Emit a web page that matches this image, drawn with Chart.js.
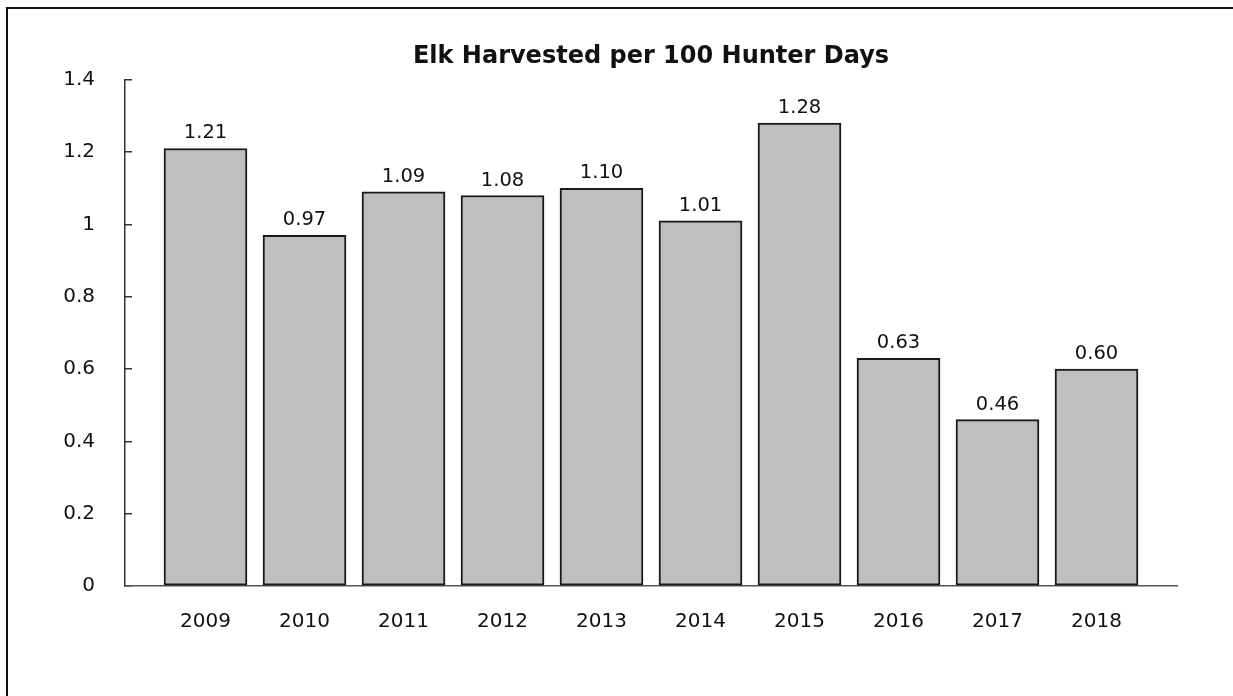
<!DOCTYPE html>
<html>
<head>
<meta charset="utf-8">
<script src="https://cdn.jsdelivr.net/npm/chart.js@4.4.0/dist/chart.umd.min.js"></script>
<style>
  html, body { margin: 0; padding: 0; background: #fff; overflow: hidden; }
  #frame { position: absolute; left: 6px; top: 7px; width: 1400px; height: 900px;
           border-left: 2px solid #111; border-top: 2px solid #111; }
  #wrap { position: absolute; left: 0; top: 0; width: 1233px; height: 696px; }
</style>
</head>
<body>
<div id="frame"></div>
<div id="wrap"><canvas id="elkChart"></canvas></div>
<script>
// chart data
const years = [2009, 2010, 2011, 2012, 2013, 2014, 2015, 2016, 2017, 2018];
const harvestRate = [1.21, 0.97, 1.09, 1.08, 1.10, 1.01, 1.28, 0.63, 0.46, 0.60];
const yTicks = [0, 0.2, 0.4, 0.6, 0.8, 1, 1.2, 1.4];

const FONT = "'DejaVu Sans', sans-serif";

// value labels above bars
const barLabels = {
    id: 'barLabels',
    afterDatasetsDraw(chart) {
        const ctx = chart.ctx;
        const meta = chart.getDatasetMeta(0);
        ctx.save();
        ctx.font = '19.5px ' + FONT;
        ctx.fillStyle = '#111';
        ctx.textAlign = 'center';
        ctx.textBaseline = 'alphabetic';
        meta.data.forEach((bar, i) => {
            ctx.fillText(harvestRate[i].toFixed(2), bar.x, bar.y - 10);
        });
        ctx.restore();
    }
};

new Chart(document.getElementById('elkChart').getContext('2d'), {
    type: 'bar',
    data: {
        datasets: [{
            label: 'Elk Harvested per 100 Hunter Days',
            data: years.map((yr, i) => ({ x: yr, y: harvestRate[i] })),
            backgroundColor: '#bfbfbf',
            borderColor: '#1a1a1a',
            borderWidth: 2,
            borderSkipped: false,
            barThickness: 83
        }]
    },
    options: {
        responsive: true,
        maintainAspectRatio: false,
        animation: false,
        layout: { padding: { top: 0, right: 56, bottom: 0, left: 0 } },
        plugins: {
            legend: { display: false },
            tooltip: { enabled: false },
            title: {
                display: true,
                text: 'Elk Harvested per 100 Hunter Days',
                color: '#111',
                fullSize: false,
                font: { family: FONT, size: 24, weight: 'bold' },
                padding: { top: 42, bottom: 9 }
            }
        },
        scales: {
            x: {
                type: 'linear',
                offset: false,
                min: 2009 - 0.5 - 31 / 99,
                max: 2018 + 0.5 + 31 / 99,
                afterBuildTicks: (scale) => { scale.ticks = years.map(v => ({ value: v })); },
                afterFit: (scale) => { scale.height = 110; },
                grid: { display: false, drawTicks: false },
                border: { display: true, color: '#555', width: 1.5 },
                ticks: {
                    color: '#111',
                    padding: 24,
                    font: { family: FONT, size: 20 },
                    callback: (v) => String(v)
                }
            },
            y: {
                min: 0,
                max: 1.4,
                afterBuildTicks: (scale) => { scale.ticks = yTicks.map(v => ({ value: v })); },
                afterFit: (scale) => { scale.width = 125; },
                grid: { drawOnChartArea: false, drawTicks: true, tickLength: -7, color: '#333', lineWidth: 1.5 },
                border: { display: true, color: '#333', width: 1.5 },
                ticks: {
                    color: '#111',
                    padding: 37,
                    font: { family: FONT, size: 20 },
                    callback: (v) => String(Math.round(v * 10) / 10)
                }
            }
        }
    },
    plugins: [barLabels]
});
</script>
</body>
</html>
